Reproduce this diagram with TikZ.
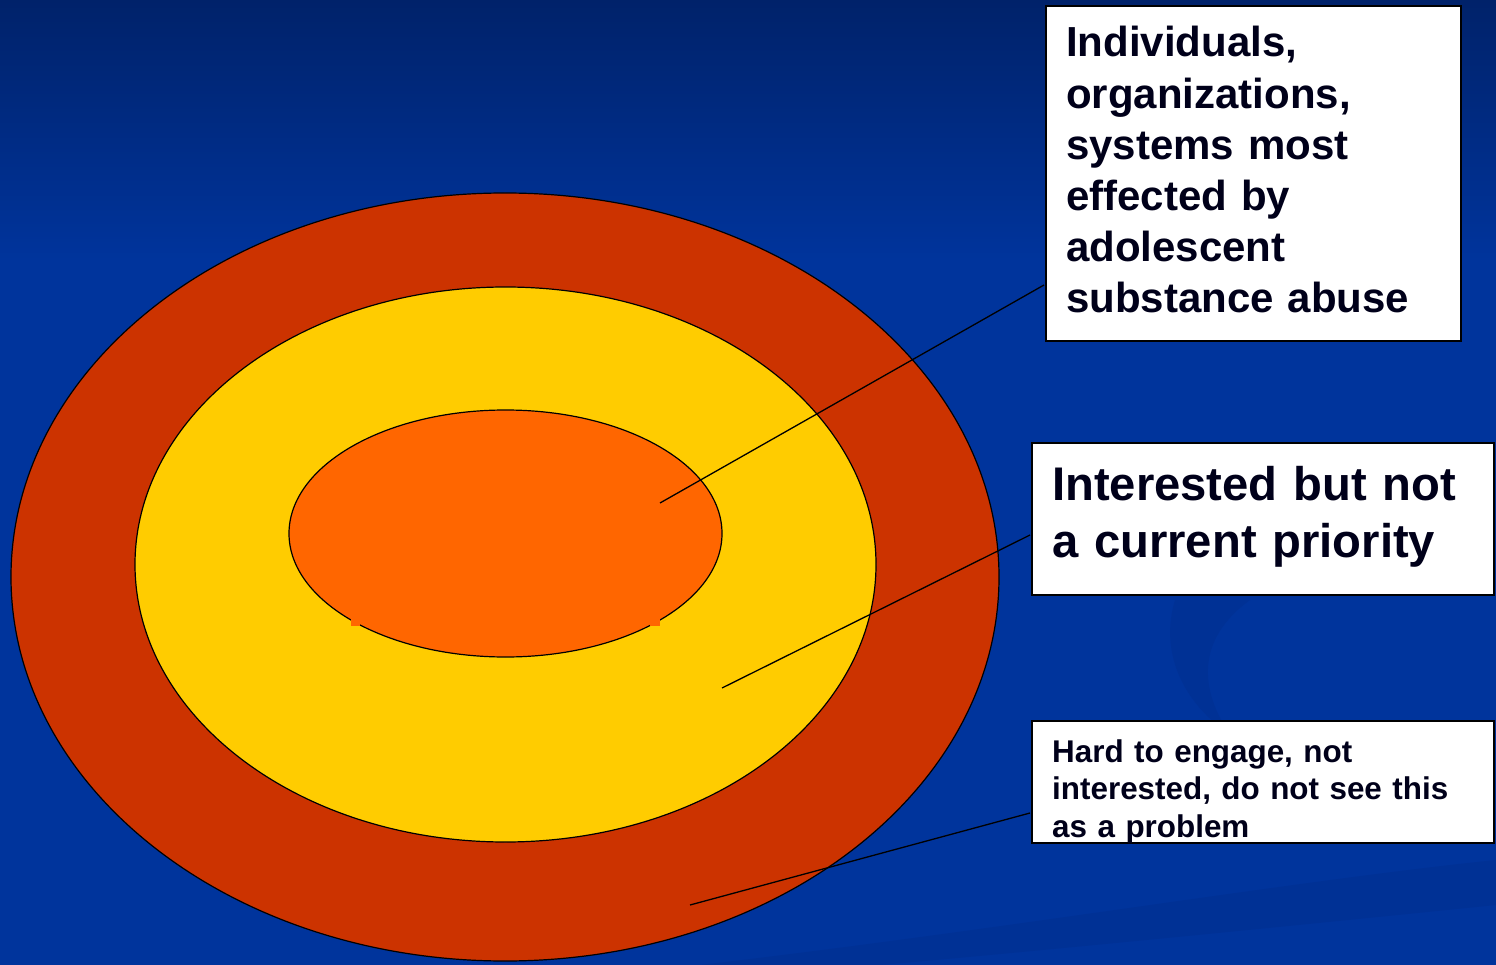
\documentclass[tikz,border=0pt]{standalone}
\usepackage{fontspec}
\setmainfont{Liberation Sans}
\definecolor{bgtop}{HTML}{00226A}
\definecolor{bgmain}{HTML}{00349C}
\definecolor{swirl}{HTML}{003195}
\definecolor{ringred}{HTML}{CC3300}
\definecolor{ringyel}{HTML}{FFCC00}
\definecolor{ringora}{HTML}{FF6600}
\definecolor{txt}{HTML}{00001A}
\tikzset{
  ring/.style={draw=black, line width=1.2pt},
  labelbox/.style={draw=black, line width=1.8pt, fill=white, inner sep=0pt, anchor=north west},
  labeltext/.style={anchor=base west, align=left, inner sep=0pt, text=txt, font=\bfseries},
  leader/.style={draw=black, line width=1.3pt},
}
\begin{document}
\begin{tikzpicture}[x=1pt,y=-1pt]
\useasboundingbox (0,0) rectangle (1496,965);
% background
\shade[top color=bgtop, bottom color=bgmain] (0,0) rectangle (1496,260);
\fill[bgmain] (0,259) rectangle (1496,965);
% faint swirls
\fill[swirl] (1175,600) .. controls (1160,650) and (1180,700) .. (1230,735) .. controls (1200,690) and (1195,640) .. (1250,600) -- cycle;
\fill[swirl] (700,965) .. controls (1000,930) and (1300,880) .. (1496,860) -- (1496,905) .. controls (1300,925) and (1050,950) .. (880,965) -- cycle;
% rings
\draw[ring, fill=ringred] (505,577) ellipse [x radius=494, y radius=384];
\draw[ring, fill=ringyel] (505.5,564.5) ellipse [x radius=370.5, y radius=277.5];
\draw[ring, fill=ringora] (505.5,533.5) ellipse [x radius=216.5, y radius=123.5];
\fill[ringora] (351,618) rectangle (360,626);
\fill[ringora] (650,618) rectangle (660,626);
% boxes
\node[labelbox, minimum width=415, minimum height=335] (b1) at (1045,5) {};
\node[labelbox, minimum width=462, minimum height=152] (b2) at (1031,442) {};
\node[labelbox, minimum width=462, minimum height=122] (b3) at (1031,720) {};
\node[labeltext, text width=400, font=\fontsize{42}{51.2}\selectfont\bfseries] (t1) at (1066,57)
  {Individuals,\\organizations,\\systems most\\effected by\\adolescent\\substance abuse};
\node[labeltext, text width=440, font=\fontsize{47.2}{57}\selectfont\bfseries] (t2) at (1052,500)
  {Interested but not\\a current priority};
\node[labeltext, text width=440, font=\fontsize{31.4}{37.5}\selectfont\bfseries] (t3) at (1052,762)
  {Hard to engage, not\\interested, do not see this\\as a problem};
% leaders
\coordinate (p1) at (660,503);
\coordinate (e1) at (1044,285);
\coordinate (p2) at (722,688);
\coordinate (e2) at (1030,535);
\coordinate (p3) at (690,905);
\coordinate (e3) at (1030,813);
\draw[leader] (p1) -- (e1);
\draw[leader] (p2) -- (e2);
\draw[leader] (p3) -- (e3);
\end{tikzpicture}
\end{document}
